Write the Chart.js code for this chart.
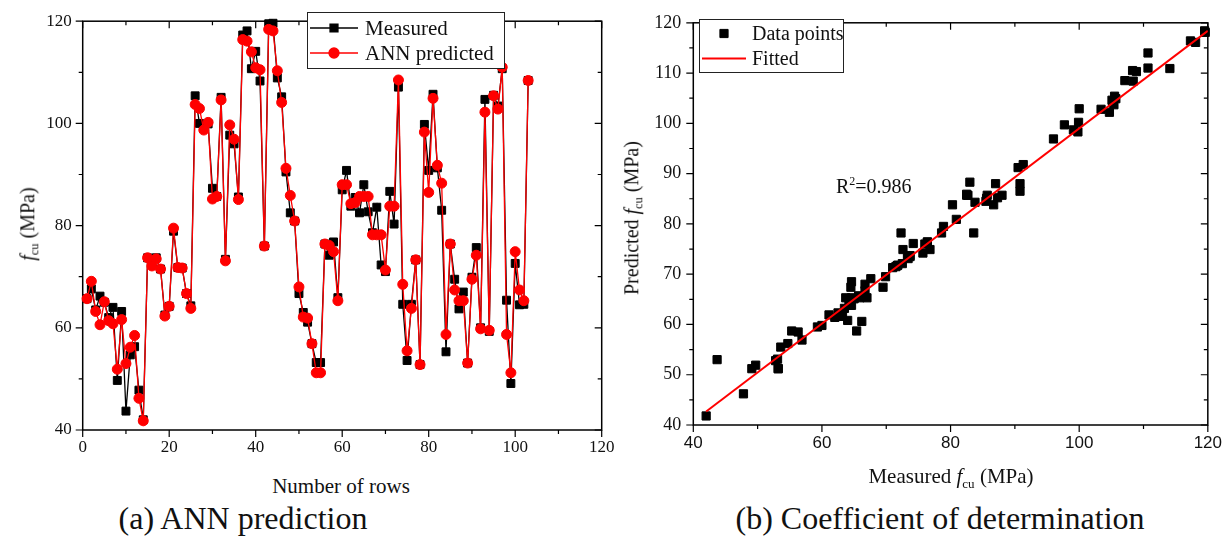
<!DOCTYPE html>
<html>
<head>
<meta charset="utf-8">
<script src="https://cdn.jsdelivr.net/npm/chart.js@4.4.0/dist/chart.umd.min.js"></script>
<style>
  body { margin: 0; background: #fff; width: 1230px; height: 539px; overflow: hidden; position: relative;
         font-family: "Liberation Serif", "Times New Roman", serif; color: #111; }
  .panel { position: absolute; top: 0; height: 470px; }
  .lbl { position: absolute; white-space: nowrap; line-height: 1; transform: translate(-50%, -50%); }
  .rot { transform: translate(-50%, -50%) rotate(-90deg); }
  sub { font-size: 0.62em; vertical-align: -0.32em; }
</style>
</head>
<body>
<div class="panel" style="left:0;width:640px"><canvas id="annChart" width="640" height="470"></canvas></div>
<div class="panel" style="left:615px;width:615px"><canvas id="r2Chart" width="615" height="470"></canvas></div>

<div class="lbl rot" style="left:29px;top:224px;font-size:20px"><i>f</i><sub>cu</sub> (MPa)</div>
<div class="lbl" style="left:341px;top:486px;font-size:21px">Number of rows</div>
<div class="lbl" style="left:243px;top:518px;font-size:32px">(a) ANN prediction</div>

<div class="lbl rot" style="left:633px;top:218px;font-size:20px">Predicted <i>f</i><sub>cu</sub> (MPa)</div>
<div class="lbl" style="left:951px;top:478px;font-size:21px">Measured <i>f</i><sub>cu</sub> (MPa)</div>
<div class="lbl" style="left:940px;top:518px;font-size:32px">(b) Coefficient of determination</div>

<script>
// Row numbers 1..103
const rows = [
  1, 2, 3, 4, 5, 6, 7, 8, 9, 10, 11, 12, 13, 14, 15, 16, 17, 18, 19, 20,
  21, 22, 23, 24, 25, 26, 27, 28, 29, 30, 31, 32, 33, 34, 35, 36, 37, 38, 39, 40,
  41, 42, 43, 44, 45, 46, 47, 48, 49, 50, 51, 52, 53, 54, 55, 56, 57, 58, 59, 60,
  61, 62, 63, 64, 65, 66, 67, 68, 69, 70, 71, 72, 73, 74, 75, 76, 77, 78, 79, 80,
  81, 82, 83, 84, 85, 86, 87, 88, 89, 90, 91, 92, 93, 94, 95, 96, 97, 98, 99, 100,
  101, 102, 103
];

// Measured f_cu (MPa)
const measured = [
  65.7, 67.6, 63.5, 66.2, 65.0, 62.0, 64.0, 49.7, 63.2, 43.7,
  54.7, 56.3, 47.8, 42.0, 73.7, 72.5, 73.7, 71.5, 62.5, 64.2,
  78.9, 71.8, 71.7, 66.7, 64.3, 105.4, 100.0, 99.1, 99.9, 87.3,
  85.7, 105.1, 73.4, 97.7, 96.0, 85.6, 117.3, 118.1, 110.7, 114.1,
  108.3, 76.0, 119.5, 119.6, 108.9, 105.2, 90.5, 82.5, 80.9, 66.7,
  63.0, 61.1, 56.9, 53.2, 53.2, 76.4, 74.2, 76.8, 65.9, 87.0,
  90.8, 83.8, 85.5, 82.5, 88.0, 82.7, 78.6, 83.6, 72.3, 71.0,
  86.7, 80.3, 107.1, 64.6, 53.6, 64.6, 73.3, 52.8, 99.8, 90.8,
  105.7, 91.3, 83.0, 55.3, 76.4, 69.5, 63.7, 67.0, 53.1, 69.9,
  75.7, 60.0, 104.7, 59.3, 105.5, 103.4, 110.7, 65.4, 49.1, 72.6,
  64.5, 64.6, 108.4
];

// ANN predicted f_cu (MPa)
const predicted = [
  65.7, 69.1, 63.2, 60.6, 65.1, 61.4, 60.8, 51.9, 61.6, 53.0,
  56.2, 58.5, 46.2, 41.8, 73.7, 72.1, 73.5, 71.5, 62.3, 64.2,
  79.5, 71.8, 71.7, 66.7, 63.8, 103.7, 102.9, 98.7, 100.2, 85.2,
  85.7, 104.6, 73.1, 99.7, 96.9, 85.1, 116.4, 116.1, 114.0, 110.9,
  110.5, 76.0, 118.4, 118.1, 110.3, 104.1, 91.2, 85.9, 80.9, 68.0,
  62.1, 61.9, 56.9, 51.2, 51.2, 76.4, 76.1, 74.9, 65.3, 88.0,
  88.0, 84.3, 84.5, 85.7, 85.7, 85.7, 78.2, 78.2, 78.2, 71.3,
  83.8, 83.8, 108.5, 68.5, 55.5, 63.8, 73.3, 52.8, 98.3, 86.5,
  104.9, 91.8, 88.3, 58.7, 76.4, 67.4, 65.3, 65.3, 53.1, 69.5,
  74.2, 59.8, 102.2, 59.5, 105.4, 102.8, 111.0, 58.7, 51.2, 74.9,
  67.4, 65.3, 108.4
];

// Fitted line end points (measured, predicted)
const fitX = [42, 120];
const fitY = [42.7, 118.4];

const r2Text = '0.986';

const serif = '"Liberation Serif", "Times New Roman", serif';
const sans = '"Liberation Sans", Arial, sans-serif';

// Frame plus tick marks: outward on bottom/left, inward on top/right
const axisFrame = {
  id: 'axisFrame',
  beforeDatasetsDraw(chart, args, opts) {
    const { ctx, chartArea: a, scales } = chart;
    ctx.save();
    ctx.strokeStyle = '#000';
    ctx.lineWidth = 1.5;
    ctx.strokeRect(a.left, a.top, a.right - a.left, a.bottom - a.top);
    ctx.lineWidth = 1.2;
    ctx.beginPath();
    ['x', 'y'].forEach(id => {
      const s = scales[id];
      const majorStep = opts[id + 'Major'];
      const minorStep = opts[id + 'Minor'];
      for (let v = s.min; v <= s.max + 1e-9; v += minorStep) {
        const k = (v - s.min) / majorStep;
        const len = Math.abs(k - Math.round(k)) < 1e-6 ? 7 : 4;
        const p = s.getPixelForValue(v);
        if (id === 'x') {
          ctx.moveTo(p, a.bottom); ctx.lineTo(p, a.bottom + len);
          ctx.moveTo(p, a.top); ctx.lineTo(p, a.top + len);
        } else {
          ctx.moveTo(a.left, p); ctx.lineTo(a.left - len, p);
          ctx.moveTo(a.right, p); ctx.lineTo(a.right - len, p);
        }
      }
    });
    ctx.stroke();
    ctx.restore();
  }
};

// Boxed legend inside the plot, drawn from the dataset styles
const boxLegend = {
  id: 'boxLegend',
  afterDatasetsDraw(chart, args, opts) {
    const ctx = chart.ctx;
    const b = opts.box;
    ctx.save();
    ctx.fillStyle = '#fff';
    ctx.fillRect(b[0], b[1], b[2], b[3]);
    ctx.strokeStyle = '#222';
    ctx.lineWidth = 1;
    ctx.strokeRect(b[0] + 0.5, b[1] + 0.5, b[2], b[3]);
    opts.items.forEach((it, i) => {
      const ds = chart.data.datasets[it.dataset];
      const y = opts.rowY[i];
      if (it.line) {
        ctx.strokeStyle = ds.borderColor;
        ctx.lineWidth = ds.borderWidth;
        ctx.beginPath();
        ctx.moveTo(opts.lineX[0], y);
        ctx.lineTo(opts.lineX[1], y);
        ctx.stroke();
      }
      if (it.marker) {
        ctx.fillStyle = ds.pointBackgroundColor;
        ctx.strokeStyle = ds.pointBorderColor;
        Chart.helpers.drawPoint(ctx, {
          pointStyle: ds.pointStyle, radius: ds.pointRadius, borderWidth: ds.pointBorderWidth, rotation: 0
        }, (opts.lineX[0] + opts.lineX[1]) / 2, y);
      }
      ctx.fillStyle = '#111';
      ctx.font = opts.fontSize + 'px ' + serif;
      ctx.textBaseline = 'middle';
      ctx.textAlign = 'left';
      ctx.fillText(ds.label, opts.textX, y + 1);
    });
    ctx.restore();
  }
};

// R^2 annotation
const r2Note = {
  id: 'r2Note',
  afterDatasetsDraw(chart, args, opts) {
    if (!opts.show) return;
    const ctx = chart.ctx;
    ctx.save();
    ctx.fillStyle = '#111';
    ctx.textBaseline = 'alphabetic';
    ctx.font = '20px ' + serif;
    ctx.fillText('R', opts.x, opts.y);
    let x = opts.x + ctx.measureText('R').width;
    ctx.font = '12px ' + serif;
    ctx.fillText('2', x, opts.y - 8);
    x += ctx.measureText('2').width;
    ctx.font = '20px ' + serif;
    ctx.fillText('=' + r2Text, x, opts.y);
    ctx.restore();
  }
};

function axis(min, max, step, font, width, height, pad) {
  return {
    type: 'linear', min: min, max: max,
    grid: { display: false, drawTicks: false },
    border: { display: false },
    ticks: { stepSize: step, color: '#111', font: font, padding: pad },
    afterFit: s => {
      if (width !== null) s.width = width;
      if (height !== null) s.height = height;
    }
  };
}

function drawCharts() {
  new Chart(document.getElementById('annChart'), {
    type: 'line',
    data: {
      datasets: [
        {
          label: 'ANN predicted',
          data: rows.map((r, i) => ({ x: r, y: predicted[i] })),
          borderColor: '#ff0000', backgroundColor: '#ff0000',
          pointBackgroundColor: '#ff0000', pointBorderColor: '#ff0000',
          borderWidth: 1.3, pointStyle: 'circle', pointRadius: 5, pointBorderWidth: 1,
          tension: 0, clip: false, order: 0
        },
        {
          label: 'Measured',
          data: rows.map((r, i) => ({ x: r, y: measured[i] })),
          borderColor: '#000', backgroundColor: '#000',
          pointBackgroundColor: '#000', pointBorderColor: '#000',
          borderWidth: 1.3, pointStyle: 'rect', pointRadius: 5.6, pointBorderWidth: 1,
          tension: 0, clip: false, order: 1
        }
      ]
    },
    options: {
      responsive: false, animation: false, devicePixelRatio: 1,
      layout: { padding: { left: 0, right: 38.3, top: 13, bottom: 0 } },
      scales: {
        x: axis(0, 120, 20, { family: serif, size: 17 }, null, 40, 7),
        y: axis(40, 120, 20, { family: serif, size: 17 }, 82.7, null, 11)
      },
      plugins: {
        legend: { display: false },
        tooltip: { enabled: false },
        axisFrame: { xMajor: 20, xMinor: 10, yMajor: 20, yMinor: 10 },
        boxLegend: {
          box: [307, 12, 197, 56], rowY: [28, 53], lineX: [310, 358], textX: 365, fontSize: 21,
          items: [{ dataset: 1, line: true, marker: true }, { dataset: 0, line: true, marker: true }]
        },
        r2Note: { show: false }
      }
    },
    plugins: [axisFrame, boxLegend, r2Note]
  });

  new Chart(document.getElementById('r2Chart'), {
    type: 'scatter',
    data: {
      datasets: [
        {
          label: 'Data points',
          data: measured.map((m, i) => ({ x: m, y: predicted[i] })),
          backgroundColor: '#000', borderColor: '#000',
          pointBackgroundColor: '#000', pointBorderColor: '#000',
          pointStyle: 'rect', pointRadius: 5.8, pointBorderWidth: 1, clip: false, order: 1
        },
        {
          type: 'line',
          label: 'Fitted',
          data: fitX.map((x, i) => ({ x: x, y: fitY[i] })),
          borderColor: '#ff0000', borderWidth: 2, pointRadius: 0, tension: 0, order: 0
        }
      ]
    },
    options: {
      responsive: false, animation: false, devicePixelRatio: 1,
      layout: { padding: { left: 0, right: 20, top: 11, bottom: 0 } },
      scales: {
        x: axis(40, 120, 20, { family: sans, size: 17 }, null, 45, 8),
        y: axis(40, 120, 10, { family: serif, size: 18 }, 78.3, null, 12)
      },
      plugins: {
        legend: { display: false },
        tooltip: { enabled: false },
        axisFrame: { xMajor: 20, xMinor: 10, yMajor: 10, yMinor: 5 },
        boxLegend: {
          box: [84, 19, 144, 53], rowY: [33.5, 58.5], lineX: [87, 131], textX: 137, fontSize: 20,
          items: [{ dataset: 0, line: false, marker: true }, { dataset: 1, line: true, marker: false }]
        },
        r2Note: { show: true, x: 221, y: 193 }
      }
    },
    plugins: [axisFrame, boxLegend, r2Note]
  });
}

// wait for the local fonts so the canvas text does not fall back
Promise.all([
  document.fonts.load('17px "Liberation Serif"'),
  document.fonts.load('17px "Liberation Sans"')
]).then(drawCharts, drawCharts);
</script>
</body>
</html>
